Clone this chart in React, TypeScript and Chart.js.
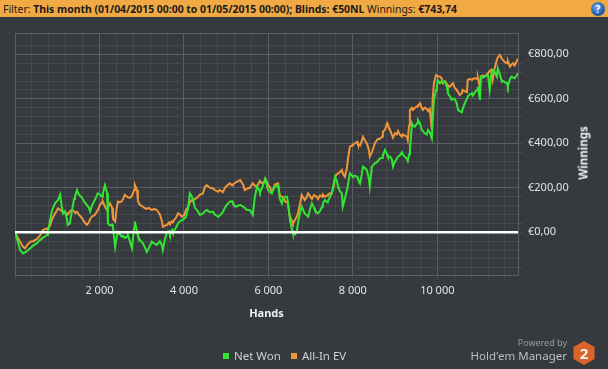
import { useEffect, useLayoutEffect, useRef, useState } from 'react';
import { Chart, registerables } from 'chart.js';

Chart.register(...registerables);

const hands = [0,70,120,190,240,280,360,430,520,590,660,760,780,830,880,950,1020,1070,1110,1140,1180,1230,1250,1300,1350,1400,1420,1470,1510,1590,1630,1700,1750,1780,1820,1890,1960,2010,2060,2080,2130,2180,2200,2250,2300,2320,2370,2410,2440,2490,2530,2560,2600,2650,2670,2720,2770,2820,2840,2890,2910,2960,3030,3080,3120,3170,3240,3290,3360,3430,3480,3500,3550,3600,3650,3670,3720,3740,3810,3860,3910,3950,4000,4050,4100,4140,4190,4210,4260,4310,4380,4450,4500,4540,4620,4690,4730,4810,4850,4920,4970,5020,5090,5140,5160,5230,5330,5400,5440,5490,5560,5610,5630,5680,5730,5780,5800,5850,5920,5940,5990,6040,6080,6130,6150,6230,6270,6320,6340,6390,6440,6460,6510,6560,6580,6630,6670,6700,6750,6790,6860,6910,6940,6980,7030,7080,7100,7150,7170,7220,7270,7290,7340,7390,7410,7460,7500,7550,7580,7620,7650,7690,7740,7760,7810,7860,7880,7930,7980,8000,8050,8100,8120,8170,8210,8240,8280,8330,8380,8400,8450,8470,8520,8570,8590,8640,8690,8710,8760,8810,8830,8880,8920,8950,9000,9040,9070,9110,9160,9180,9230,9280,9300,9330,9350,9400,9420,9470,9520,9540,9590,9630,9660,9700,9750,9780,9820,9870,9890,9920,9970,9990,10010,10060,10110,10130,10180,10230,10250,10300,10340,10370,10410,10460,10490,10530,10580,10600,10650,10700,10720,10770,10820,10840,10890,10940,10960,11010,11030,11080,11120,11170,11200,11240,11270,11310,11360,11410,11430,11480,11530,11550,11600,11650,11670,11720,11760,11790,11830,11880,11910];

const netWon = [0,-45,-80,-95,-90,-85,-72,-60,-49,-35,-25,-12,0,55,100,131,145,170,110,85,95,60,33,40,100,150,160,190,170,155,140,123,110,93,120,145,175,170,160,175,212,177,40,30,35,25,-65,-20,0,-10,-20,-15,-25,-20,-10,-40,-72,20,48,0,-15,-35,-50,-70,-88,-70,-42,-50,-57,-40,-60,-80,-30,0,5,-10,10,0,20,40,50,55,60,70,110,175,160,150,110,100,78,85,95,100,90,93,80,70,75,90,110,125,138,140,130,115,123,115,110,100,100,85,78,160,205,190,180,200,240,230,190,180,175,200,205,210,150,130,150,160,160,140,55,10,-5,-10,0,40,90,115,85,75,70,100,130,110,100,90,85,95,115,130,145,135,140,160,175,220,250,230,205,185,175,115,150,190,210,265,255,250,255,250,240,220,260,295,290,280,240,205,295,300,310,315,320,332,335,345,370,350,340,340,330,295,320,330,340,345,360,350,340,330,320,350,370,490,480,475,490,505,490,460,455,445,440,460,450,422,500,595,640,660,685,670,680,675,677,650,625,610,595,600,600,580,550,545,540,555,580,600,610,620,625,615,630,640,655,595,700,695,700,705,707,640,700,730,720,700,737,710,677,680,675,670,655,690,700,695,692,705,715];

const allInEv = [0,-25,-42,-65,-72,-60,-42,-40,-30,-15,10,18,15,30,60,85,108,100,95,90,88,85,80,95,100,95,90,92,80,63,50,33,45,60,70,78,100,122,135,138,115,100,110,130,110,60,48,110,138,135,140,150,168,160,158,155,165,190,212,190,140,123,115,108,105,110,100,105,100,80,50,25,30,33,45,40,50,48,65,85,80,70,75,100,115,135,145,140,150,155,170,175,205,212,200,197,190,182,190,180,200,210,220,210,215,225,235,215,190,195,200,215,220,210,205,225,230,220,230,235,215,200,182,200,215,220,165,160,158,140,135,130,70,50,40,55,70,85,130,168,145,160,175,165,150,168,165,160,150,165,160,170,160,165,170,175,175,210,250,260,265,270,280,265,250,290,325,385,390,395,400,407,395,390,410,430,415,400,370,340,360,370,400,415,420,420,430,452,460,490,480,460,440,425,445,440,455,440,430,440,435,430,415,480,550,560,550,560,565,570,580,560,550,560,555,545,555,460,600,670,707,705,700,700,690,670,680,665,660,655,665,670,650,640,630,617,625,640,635,630,685,690,685,690,692,690,695,650,700,705,700,710,715,725,730,685,740,775,785,797,780,775,765,760,770,745,755,760,750,770,780];

const xMin = 0;
const xMax = 11910;
const yMin = -192;
const yMax = 896;
const xStep = 400;
const xLabelEvery = 2000;
const yStep = 40;
const yLabelEvery = 200;
const seriesNames = ['Net Won', 'All-In EV'];

const BG = '#36393d';
const GRID_MINOR = '#45484c';
const GRID_MAJOR = '#5b5e62';
const GREEN = '#33e533';
const ORANGE = '#f0963a';
const FONT = "'Noto Sans', 'Open Sans', sans-serif";
const HEADER_TEXT_WIDTH = 454;

const fmtHands = (v: number) => String(v).replace(/\B(?=(\d{3})+(?!\d))/g, ' ');
const fmtEuro = (v: number) => {
  const s = Math.abs(v).toFixed(2).replace('.', ',');
  return (v < 0 ? '-€' : '€') + s;
};

const frameBorder = {
  id: 'frameBorder',
  beforeDatasetsDraw(chart: any) {
    const { ctx, chartArea } = chart;
    ctx.save();
    ctx.strokeStyle = GRID_MAJOR;
    ctx.lineWidth = 1;
    ctx.beginPath();
    ctx.moveTo(chartArea.left, chartArea.top + 0.5);
    ctx.lineTo(chartArea.right, chartArea.top + 0.5);
    ctx.stroke();
    ctx.restore();
  },
};

export default function App() {
  const ref = useRef<HTMLCanvasElement>(null);
  const headRef = useRef<HTMLSpanElement>(null);
  const [headScale, setHeadScale] = useState(1);

  useLayoutEffect(() => {
    if (headRef.current) {
      const w = headRef.current.offsetWidth;
      if (w > 0) setHeadScale(HEADER_TEXT_WIDTH / w);
    }
  }, []);

  useEffect(() => {
    if (!ref.current) return;
    const chart = new Chart(ref.current, {
      type: 'line',
      data: {
        datasets: [
          {
            label: 'zero',
            data: [{ x: xMin, y: 0 }, { x: xMax, y: 0 }],
            borderColor: '#ffffff',
            borderWidth: 2.5,
            pointRadius: 0,
            order: 0,
          },
          {
            label: seriesNames[0],
            data: hands.map((h, i) => ({ x: h, y: netWon[i] })),
            borderColor: GREEN,
            backgroundColor: GREEN,
            borderWidth: 2,
            pointRadius: 0,
            tension: 0,
            order: 1,
          },
          {
            label: seriesNames[1],
            data: hands.map((h, i) => ({ x: h, y: allInEv[i] })),
            borderColor: ORANGE,
            backgroundColor: ORANGE,
            borderWidth: 2,
            pointRadius: 0,
            tension: 0,
            order: 2,
          },
        ],
      },
      options: {
        animation: false,
        responsive: false,
        maintainAspectRatio: false,
        layout: { padding: { left: 15, top: 33, right: 0, bottom: 0 } },
        plugins: { legend: { display: false }, tooltip: { enabled: false } },
        scales: {
          x: {
            type: 'linear',
            min: xMin,
            max: xMax,
            afterFit: (s: any) => { s.height = 94; },
            afterBuildTicks: (s: any) => {
              const t: any[] = [];
              for (let v = xMin; v <= xMax; v += xStep) t.push({ value: v });
              s.ticks = t;
            },
            ticks: {
              stepSize: xStep,
              includeBounds: false,
              autoSkip: false,
              maxRotation: 0,
              padding: 4,
              color: '#e4e4e4',
              font: { family: FONT, size: 11 },
              callback: (v: any) => (v > 0 && v % xLabelEvery === 0 ? fmtHands(v) : ''),
            },
            grid: {
              color: (c: any) => (c.tick && c.tick.value % xLabelEvery === 0 ? GRID_MAJOR : GRID_MINOR),
              tickColor: GRID_MINOR,
              tickLength: 5,
              drawTicks: true,
            },
            border: { display: true, color: GRID_MAJOR },
            title: {
              display: true,
              text: 'Hands',
              color: '#eeeeee',
              font: { family: FONT, size: 11, weight: 'bold' },
              padding: { top: 0, bottom: 49 },
            },
          },
          y: {
            type: 'linear',
            position: 'right',
            min: yMin,
            max: yMax,
            afterFit: (s: any) => { s.width = 90; },
            afterBuildTicks: (s: any) => { s.ticks = s.ticks.filter((t: any) => yMax - t.value > 20); },
            ticks: {
              stepSize: yStep,
              includeBounds: false,
              autoSkip: false,
              padding: 5,
              color: '#e4e4e4',
              font: { family: FONT, size: 11 },
              callback: (v: any) => (v % yLabelEvery === 0 ? fmtEuro(v) : ''),
            },
            grid: {
              color: (c: any) => (c.tick && c.tick.value % yLabelEvery === 0 ? GRID_MAJOR : GRID_MINOR),
              tickColor: GRID_MINOR,
              tickLength: 5,
              drawTicks: true,
            },
            border: { display: true, color: GRID_MAJOR },
          },
        },
      },
      plugins: [frameBorder],
    });
    return () => chart.destroy();
  }, []);

  const sq = (c: string) => ({
    display: 'inline-block', width: 6, height: 6, background: c, marginRight: 5, verticalAlign: 'middle', position: 'relative' as const, top: -1,
  });

  return (
    <div style={{ position: 'absolute', left: 0, top: 0, width: 608, height: 369, background: BG, overflow: 'hidden', fontFamily: FONT }}>
      <div style={{ position: 'absolute', left: 0, top: 0, width: 608, height: 17, background: '#f1aa43', color: '#1a1a1a', fontSize: 11, lineHeight: '17px', paddingLeft: 3, whiteSpace: 'nowrap', boxSizing: 'border-box' }}>
        <span ref={headRef} style={{ display: 'inline-block', transform: `scaleX(${headScale})`, transformOrigin: '0 50%' }}>
          <span>Filter: </span><b>This month (01/04/2015 00:00 to 01/05/2015 00:00); Blinds: €50NL</b> <span>Winnings: </span><b>€743,74</b>
        </span>
      </div>
      <div style={{ position: 'absolute', left: 591, top: 2, width: 14, height: 14, borderRadius: 7, background: 'radial-gradient(circle at 40% 35%, #6aa6ec, #1f5fb4 60%, #173f80)', color: '#fff', fontSize: 10, fontWeight: 'bold', lineHeight: '14px', textAlign: 'center' }}>?</div>
      <canvas ref={ref} width={608} height={369} style={{ position: 'absolute', left: 0, top: 0, width: 608, height: 369 }} />
      <div style={{ position: 'absolute', left: 583, top: 153, transform: 'translate(-50%, -50%) rotate(-90deg)', color: '#eeeeee', fontSize: 11.5, fontWeight: 'bold', whiteSpace: 'nowrap' }}>Winnings</div>
      <div style={{ position: 'absolute', left: 223, top: 347, color: '#cfcfcf', fontSize: 11.5, whiteSpace: 'nowrap', lineHeight: '18px' }}>
        <span style={sq(GREEN)} />{seriesNames[0]}
        <span style={{ ...sq(ORANGE), marginLeft: 10 }} />{seriesNames[1]}
      </div>
      <div style={{ position: 'absolute', right: 608 - 567, top: 337, color: '#9a9a9a', fontSize: 9, lineHeight: '12px', whiteSpace: 'nowrap', textAlign: 'right' }}>Powered by</div>
      <div style={{ position: 'absolute', right: 608 - 567, top: 348, color: '#bdbdbd', fontSize: 11.5, lineHeight: '16px', whiteSpace: 'nowrap', textAlign: 'right' }}>Hold'em Manager</div>
      <svg style={{ position: 'absolute', left: 573, top: 341 }} width={22} height={24} viewBox="0 0 22 24">
        <polygon points="11,0 21.5,6 21.5,18 11,24 0.5,18 0.5,6" fill="#d9652a" />
        <text x="11" y="17.5" textAnchor="middle" fill="#f4f4f4" fontSize="15" fontWeight="bold" fontFamily={FONT}>2</text>
      </svg>
    </div>
  );
}
